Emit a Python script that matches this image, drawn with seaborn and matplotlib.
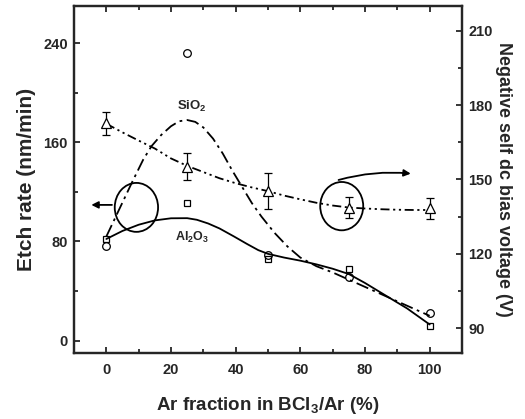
import matplotlib
matplotlib.use("Agg")
from matplotlib import pyplot as plt
from matplotlib.patches import Ellipse
from matplotlib.ticker import MultipleLocator
import seaborn as sns
import pandas as pd

sns.set_style("ticks")
plt.rcParams['font.family'] = ['Liberation Sans', 'DejaVu Sans']
plt.rcParams['font.weight'] = 'bold'
plt.rcParams['mathtext.default'] = 'regular'
plt.rcParams['xtick.direction'] = 'in'
plt.rcParams['ytick.direction'] = 'in'

# measured points (Ar fraction in %)
ar_frac = [0, 25, 50, 75, 100]
sio2_rate = [76, 232, 69, 51, 22]
al2o3_rate = [82, 111, 66, 58, 12]
bias_v = [172.6, 155.1, 145.4, 138.7, 138.3]
bias_err = [4.8, 5.5, 7.2, 4.2, 4.2]

# fitted curves
sio2_fit_x = [0, 4, 8, 11.4, 14, 17, 20, 22.5, 25, 27.5, 30, 33, 36, 39, 42, 45, 48,
              52, 56, 60, 65, 70, 76, 82, 88, 94, 100]
sio2_fit_y = [84, 106, 128, 146, 157, 166, 173, 177, 178, 176.5, 172, 163, 151, 137, 124,
              111, 100, 87, 76, 67, 60, 55, 48, 41, 34, 27, 20]

al2o3_fit_x = [0, 5, 10, 15, 20, 25, 28, 31.5, 35, 39.5, 43.5, 47, 50, 55, 60, 65, 70,
               75, 80, 86, 93, 100]
al2o3_fit_y = [82, 88.5, 93.5, 97, 98.7, 98.8, 97.5, 94.5, 90.5, 84, 78, 73, 70, 67,
               64.5, 61.5, 58, 53.7, 46.5, 37, 26, 13]

bias_fit_x = [0, 5, 10, 15, 20, 25, 30, 35, 40, 45, 50, 55, 60, 65, 70, 75, 80, 85, 90, 95, 100]
bias_fit_y = [172.5, 169, 165.7, 162.5, 158.5, 155.5, 153, 150.5, 148.5, 146.8, 145.3,
              143.5, 142, 140.6, 139.5, 138.7, 138.3, 138, 137.8, 137.7, 137.7]

fits = pd.DataFrame({'x': sio2_fit_x, 'y': sio2_fit_y})
fita = pd.DataFrame({'x': al2o3_fit_x, 'y': al2o3_fit_y})
fitb = pd.DataFrame({'x': bias_fit_x, 'y': bias_fit_y})

fig = plt.figure(figsize=(5.25, 4.19), dpi=100)
ax = fig.add_axes([74 / 525, 66 / 419, 388 / 525, 347 / 419])
ax2 = ax.twinx()

# etch rate curves (left axis)
sns.lineplot(data=fits, x='x', y='y', ax=ax, color='black', lw=1.3,
             linestyle=(0, (7, 2.5, 1.5, 2.5)), sort=False, estimator=None)
sns.lineplot(data=fita, x='x', y='y', ax=ax, color='black', lw=1.3,
             sort=False, estimator=None)
ax.plot(ar_frac, sio2_rate, 'o', mfc='none', mec='black', ms=5.5, mew=0.9)
ax.plot(ar_frac, al2o3_rate, 's', mfc='none', mec='black', ms=5, mew=0.9)

# bias voltage (right axis)
sns.lineplot(data=fitb, x='x', y='y', ax=ax2, color='black', lw=1.3,
             linestyle=(0, (5, 2, 1.2, 2, 1.2, 2)), sort=False, estimator=None)
ax2.errorbar(ar_frac, bias_v, yerr=bias_err, fmt='^', mfc='white', mec='black',
             ecolor='black', ms=7.5, mew=0.9, elinewidth=0.9, capsize=2.8, capthick=0.9)

ax.set_xlim(-10, 110)
ax.set_ylim(-10, 270)
ax2.set_ylim(80, 220)

ax.xaxis.set_major_locator(MultipleLocator(20))
ax.xaxis.set_minor_locator(MultipleLocator(10))
ax.yaxis.set_major_locator(MultipleLocator(80))
ax.yaxis.set_minor_locator(MultipleLocator(40))
ax2.yaxis.set_major_locator(MultipleLocator(30))
ax2.yaxis.set_minor_locator(MultipleLocator(15))

ax.tick_params(axis='x', which='both', top=True, labelsize=10.5, pad=7, width=1.3)
ax.tick_params(axis='y', which='both', right=False, labelsize=10.5, pad=4.5, width=1.3)
ax2.tick_params(axis='y', which='both', labelsize=10.5, pad=4.5, width=1.3)
for a in (ax, ax2):
    a.tick_params(which='major', length=4.5)
    a.tick_params(which='minor', length=3)
    for s in a.spines.values():
        s.set_linewidth(1.6)
        s.set_visible(True)

ax.set_xlabel("Ar fraction in BCl$_3$/Ar (%)", fontsize=13.5, fontweight='bold', labelpad=13)
ax.set_ylabel("Etch rate (nm/min)", fontsize=15, fontweight='bold', labelpad=5)
ax2.set_ylabel("Negative self dc bias voltage (V)", fontsize=13, fontweight='bold',
               rotation=-90, labelpad=14)

# labels and guide circles
ax.text(26.5, 189, "SiO$_2$", ha='center', va='center', fontsize=9.5, fontweight='bold')
ax.text(26.5, 83, "Al$_2$O$_3$", ha='center', va='center', fontsize=9, fontweight='bold')
ax.add_patch(Ellipse((9.3, 107.5), 13.4, 39.5, fill=False, lw=1.3, color='black'))
ax.add_patch(Ellipse((72.8, 108.5), 13.3, 39, fill=False, lw=1.3, color='black'))
ax.annotate("", xy=(-5.5, 109.5), xytext=(2.6, 109.5),
            arrowprops=dict(arrowstyle='-|>', color='black', lw=1.3, mutation_scale=10))
ax.annotate("", xy=(95, 134.5), xytext=(71, 129),
            arrowprops=dict(arrowstyle='-|>', color='black', lw=1.3, mutation_scale=10,
                            connectionstyle='arc3,rad=-0.1'))

fig.savefig("out.png", dpi=100)
